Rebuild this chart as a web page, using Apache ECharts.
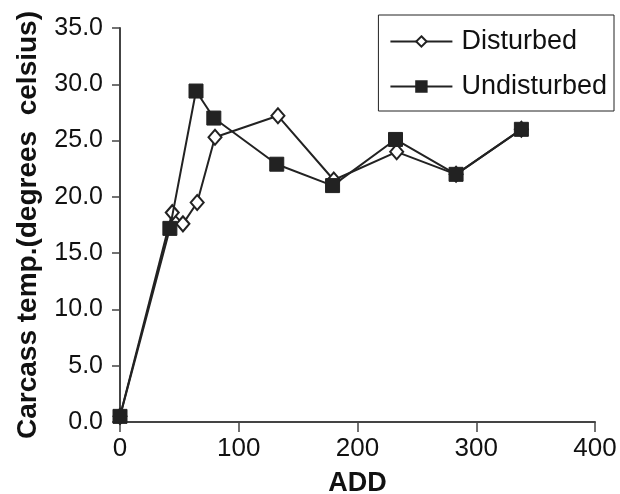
<!DOCTYPE html>
<html>
<head>
<meta charset="utf-8">
<script src="https://cdn.jsdelivr.net/npm/echarts@6/dist/echarts.min.js"></script>
<style>
  html, body { margin: 0; padding: 0; background: #fff; }
  #chart { width: 620px; height: 494px; }
</style>
</head>
<body>
<div id="chart"></div>
<script>
// values
const disturbedAdd = [0, 44, 53, 65, 80, 133, 180, 233, 283, 338]
const disturbedTemp = [0.5, 18.6, 17.6, 19.5, 25.3, 27.2, 21.5, 24.0, 22.0, 26.0]
const undisturbedAdd = [0, 42, 64, 79, 132, 179, 232, 283, 338]
const undisturbedTemp = [0.5, 17.2, 29.4, 27.0, 22.9, 21.0, 25.1, 22.0, 26.0]

const pairs = (xs, ys) => xs.map((x, i) => [x, ys[i]])

const font = 'Liberation Sans, Arial, sans-serif'
const axisColor = '#444'

let myChart = echarts.init(document.getElementById('chart'))
myChart.setOption({
  animation: false,
  grid: { left: 120, right: 25, top: 28, bottom: 72, outerBoundsMode: 'none', containLabel: false },
  legend: {
    right: 6,
    top: 15,
    orient: 'vertical',
    backgroundColor: '#fff',
    borderColor: '#222',
    borderWidth: 1,
    borderRadius: 0,
    padding: [13, 7, 11, 11],
    itemGap: 18,
    itemWidth: 62,
    itemHeight: 13,
    textStyle: { fontFamily: font, fontSize: 27, color: '#111', padding: [0, 0, 0, 4] }
  },
  xAxis: {
    type: 'value',
    min: 0,
    max: 400,
    interval: 100,
    name: 'ADD',
    nameLocation: 'middle',
    nameGap: 48,
    nameTextStyle: { fontFamily: font, fontSize: 27, fontWeight: 'bold', color: '#111' },
    splitLine: { show: false },
    axisLine: { lineStyle: { color: axisColor, width: 2 } },
    axisTick: { length: 10, lineStyle: { color: axisColor, width: 1.5 } },
    axisLabel: { fontFamily: font, fontSize: 26, color: '#111', margin: 14 }
  },
  yAxis: {
    type: 'value',
    min: 0,
    max: 35,
    interval: 5,
    name: 'Carcass temp.(degrees  celsius)',
    nameLocation: 'middle',
    nameRotate: 90,
    nameGap: 78,
    nameTextStyle: { fontFamily: font, fontSize: 28, fontWeight: 'bold', color: '#111' },
    splitLine: { show: false },
    axisLine: { show: true, lineStyle: { color: axisColor, width: 2 } },
    axisTick: { show: true, length: 8, lineStyle: { color: axisColor, width: 1.5 } },
    axisLabel: {
      fontFamily: font, fontSize: 25, color: '#111', margin: 17,
      formatter: v => v.toFixed(1)
    }
  },
  series: [{
    name: 'Disturbed',
    type: 'line',
    data: pairs(disturbedAdd, disturbedTemp),
    symbol: 'diamond',
    symbolSize: [13, 15],
    z: 2,
    lineStyle: { color: '#222', width: 2 },
    itemStyle: { color: '#fff', borderColor: '#222', borderWidth: 2 }
  }, {
    name: 'Undisturbed',
    type: 'line',
    data: pairs(undisturbedAdd, undisturbedTemp),
    symbol: 'rect',
    symbolSize: 14,
    z: 3,
    lineStyle: { color: '#222', width: 2 },
    itemStyle: { color: '#222', borderColor: '#222', borderWidth: 1 }
  }]
})
</script>
</body>
</html>
